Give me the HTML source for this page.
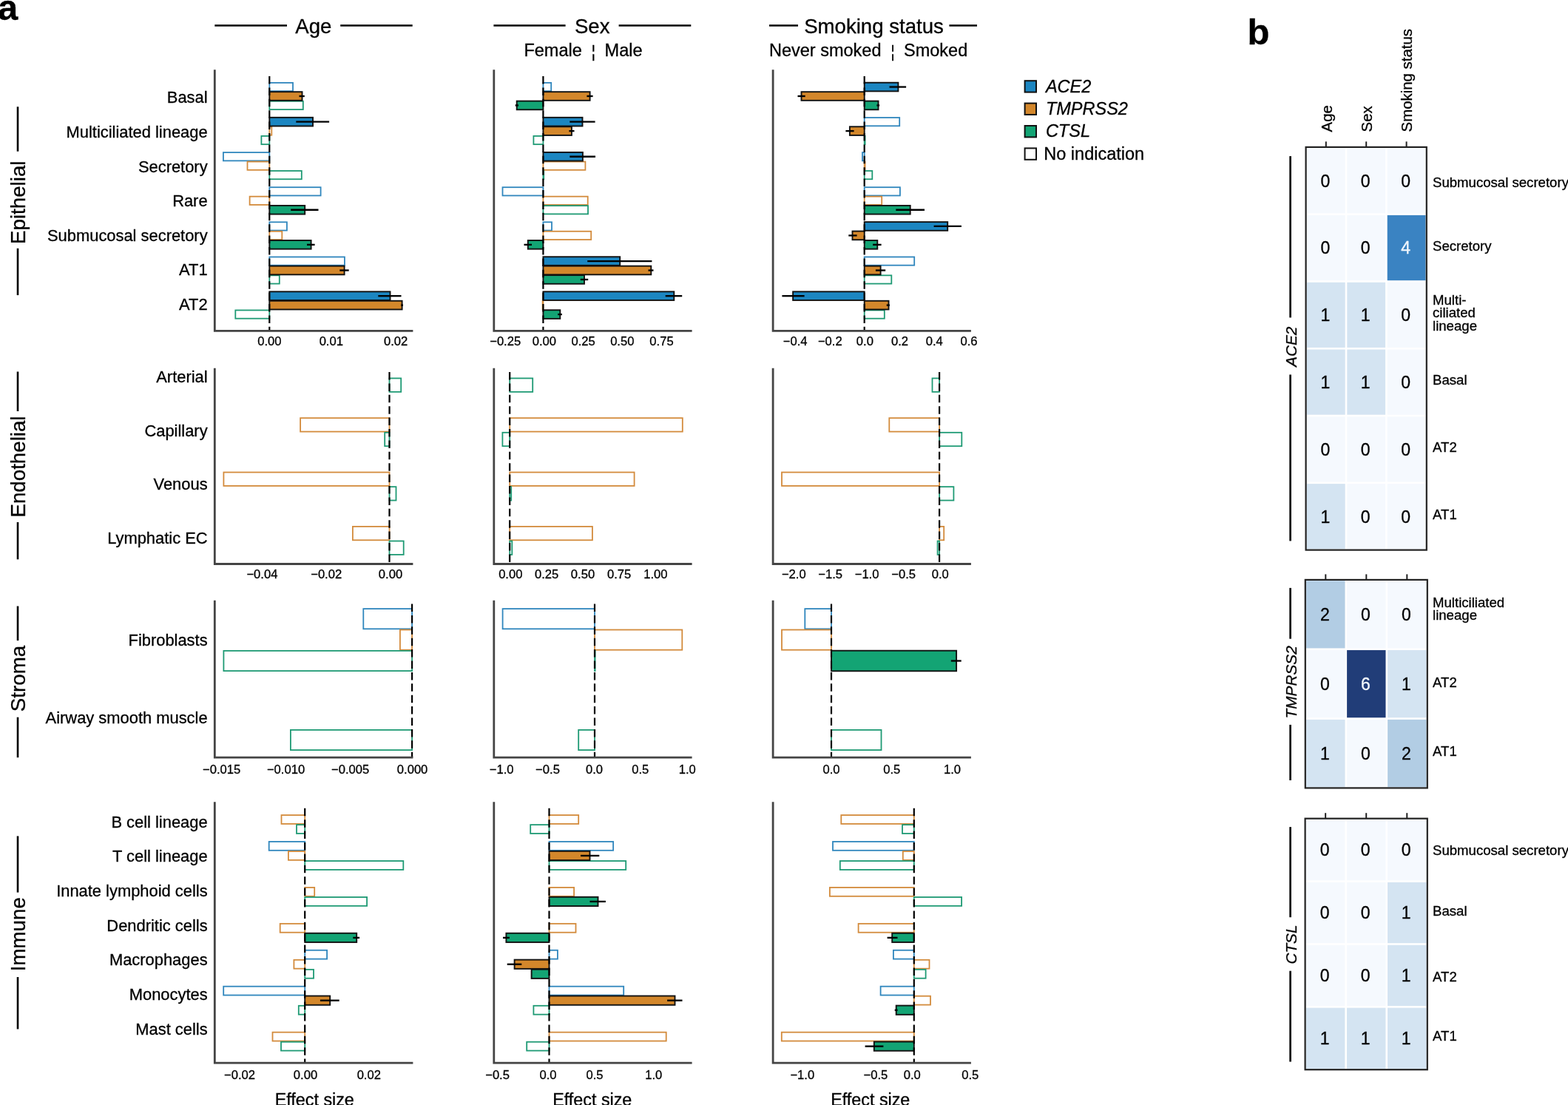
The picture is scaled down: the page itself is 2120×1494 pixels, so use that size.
<!DOCTYPE html>
<html><head><meta charset="utf-8"><title>Figure</title>
<style>html,body{margin:0;padding:0;background:#fff;}body{width:2120px;height:1494px;overflow:hidden;}svg{display:block;}</style>
</head><body>
<svg width="2120" height="1494" viewBox="0 0 2120 1494" font-family='"Liberation Sans", Arial, Helvetica, sans-serif'>
<rect width="2120" height="1494" fill="#fff"/>
<text x="-3" y="26.8" font-size="49" font-weight="bold" stroke="#000" stroke-width="0.3">a</text>
<text x="1686.5" y="60.2" font-size="49" font-weight="bold" stroke="#000" stroke-width="0.3">b</text>
<line x1="290.3" y1="34.5" x2="388" y2="34.5" stroke="#000" stroke-width="2.5"/>
<line x1="460.2" y1="34.5" x2="557.7" y2="34.5" stroke="#000" stroke-width="2.5"/>
<text x="423.9" y="45.4" font-size="27.6" text-anchor="middle" stroke="#000" stroke-width="0.3">Age</text>
<line x1="667.4" y1="34.5" x2="764.6" y2="34.5" stroke="#000" stroke-width="2.5"/>
<line x1="836.6" y1="34.5" x2="934.3" y2="34.5" stroke="#000" stroke-width="2.5"/>
<text x="800.7" y="45.4" font-size="27.6" text-anchor="middle" stroke="#000" stroke-width="0.3">Sex</text>
<line x1="1040" y1="34.5" x2="1079" y2="34.5" stroke="#000" stroke-width="2.5"/>
<line x1="1283.4" y1="34.5" x2="1321" y2="34.5" stroke="#000" stroke-width="2.5"/>
<text x="1181.5" y="45.4" font-size="27.6" text-anchor="middle" stroke="#000" stroke-width="0.3">Smoking status</text>
<text x="786.8" y="76.3" font-size="23.5" text-anchor="end" stroke="#000" stroke-width="0.3">Female</text>
<text x="802.3" y="76.9" font-size="21.5" text-anchor="middle" stroke="#000" stroke-width="0.3">¦</text>
<text x="817.6" y="76.3" font-size="23.5" stroke="#000" stroke-width="0.3">Male</text>
<text x="1191.5" y="76.3" font-size="23.5" text-anchor="end" stroke="#000" stroke-width="0.3">Never smoked</text>
<text x="1207" y="76.9" font-size="21.5" text-anchor="middle" stroke="#000" stroke-width="0.3">¦</text>
<text x="1222" y="76.3" font-size="23.5" stroke="#000" stroke-width="0.3">Smoked</text>
<rect x="364.3" y="111.92" width="31.7" height="11.25" fill="none" stroke="#2f86bd" stroke-width="1.8"/>
<rect x="364.3" y="136.82" width="45.5" height="11.25" fill="none" stroke="#1e9a74" stroke-width="1.8"/>
<rect x="364.3" y="171.47" width="3" height="11.25" fill="none" stroke="#d38b3c" stroke-width="1.8"/>
<rect x="353.4" y="183.92" width="10.9" height="11.25" fill="none" stroke="#1e9a74" stroke-width="1.8"/>
<rect x="301.9" y="206.12" width="62.4" height="11.25" fill="none" stroke="#2f86bd" stroke-width="1.8"/>
<rect x="334.5" y="218.57" width="29.8" height="11.25" fill="none" stroke="#d38b3c" stroke-width="1.8"/>
<rect x="364.3" y="231.02" width="43.5" height="11.25" fill="none" stroke="#1e9a74" stroke-width="1.8"/>
<rect x="364.3" y="253.22" width="69.3" height="11.25" fill="none" stroke="#2f86bd" stroke-width="1.8"/>
<rect x="337.6" y="265.68" width="26.7" height="11.25" fill="none" stroke="#d38b3c" stroke-width="1.8"/>
<rect x="364.3" y="300.32" width="23.6" height="11.25" fill="none" stroke="#2f86bd" stroke-width="1.8"/>
<rect x="364.3" y="312.77" width="17" height="11.25" fill="none" stroke="#d38b3c" stroke-width="1.8"/>
<rect x="364.3" y="347.43" width="101.6" height="11.25" fill="none" stroke="#2f86bd" stroke-width="1.8"/>
<rect x="364.3" y="372.33" width="13.5" height="11.25" fill="none" stroke="#1e9a74" stroke-width="1.8"/>
<rect x="318.3" y="419.43" width="46" height="11.25" fill="none" stroke="#1e9a74" stroke-width="1.8"/>
<rect x="364.3" y="124.18" width="44.2" height="11.65" fill="#d3872b" stroke="#111" stroke-width="1.9"/>
<rect x="364.3" y="158.83" width="58.7" height="11.65" fill="#1c86c1" stroke="#111" stroke-width="1.9"/>
<rect x="364.3" y="277.93" width="47.9" height="11.65" fill="#13a474" stroke="#111" stroke-width="1.9"/>
<rect x="364.3" y="325.02" width="56.3" height="11.65" fill="#13a474" stroke="#111" stroke-width="1.9"/>
<rect x="364.3" y="359.67" width="101.3" height="11.65" fill="#d3872b" stroke="#111" stroke-width="1.9"/>
<rect x="364.3" y="394.32" width="163.2" height="11.65" fill="#1c86c1" stroke="#111" stroke-width="1.9"/>
<rect x="364.3" y="406.77" width="179.3" height="11.65" fill="#d3872b" stroke="#111" stroke-width="1.9"/>
<line x1="364.3" y1="103" x2="364.3" y2="447.3" stroke="#000" stroke-width="2.2" stroke-dasharray="10.5 4.9"/>
<line x1="404.5" y1="130" x2="411.8" y2="130" stroke="#000" stroke-width="2.3"/>
<line x1="400.3" y1="164.65" x2="445.1" y2="164.65" stroke="#000" stroke-width="2.3"/>
<line x1="393.2" y1="283.75" x2="430.5" y2="283.75" stroke="#000" stroke-width="2.3"/>
<line x1="415" y1="330.85" x2="425.6" y2="330.85" stroke="#000" stroke-width="2.3"/>
<line x1="459.3" y1="365.5" x2="471.7" y2="365.5" stroke="#000" stroke-width="2.3"/>
<line x1="511.3" y1="400.15" x2="542.5" y2="400.15" stroke="#000" stroke-width="2.3"/>
<line x1="542.2" y1="412.6" x2="545" y2="412.6" stroke="#000" stroke-width="2.3"/>
<path d="M290.3 94.3 V447.3 H558.4" fill="none" stroke="#444444" stroke-width="2.8"/>
<text x="364.4" y="467.2" font-size="16.6" text-anchor="middle" stroke="#000" stroke-width="0.3">0.00</text>
<text x="447.8" y="467.2" font-size="16.6" text-anchor="middle" stroke="#000" stroke-width="0.3">0.01</text>
<text x="535.1" y="467.2" font-size="16.6" text-anchor="middle" stroke="#000" stroke-width="0.3">0.02</text>
<rect x="734.4" y="111.92" width="10.8" height="11.25" fill="none" stroke="#2f86bd" stroke-width="1.8"/>
<rect x="721.4" y="183.92" width="13" height="11.25" fill="none" stroke="#1e9a74" stroke-width="1.8"/>
<rect x="734.4" y="218.57" width="57" height="11.25" fill="none" stroke="#d38b3c" stroke-width="1.8"/>
<rect x="734.4" y="231.02" width="0.8" height="11.25" fill="none" stroke="#1e9a74" stroke-width="1.8"/>
<rect x="679.5" y="253.22" width="54.9" height="11.25" fill="none" stroke="#2f86bd" stroke-width="1.8"/>
<rect x="734.4" y="265.68" width="60.3" height="11.25" fill="none" stroke="#d38b3c" stroke-width="1.8"/>
<rect x="734.4" y="278.13" width="60.6" height="11.25" fill="none" stroke="#1e9a74" stroke-width="1.8"/>
<rect x="734.4" y="300.32" width="11.6" height="11.25" fill="none" stroke="#2f86bd" stroke-width="1.8"/>
<rect x="734.4" y="312.77" width="64.8" height="11.25" fill="none" stroke="#d38b3c" stroke-width="1.8"/>
<rect x="733.6" y="406.98" width="0.8" height="11.25" fill="none" stroke="#d38b3c" stroke-width="1.8"/>
<rect x="734.4" y="124.18" width="63.2" height="11.65" fill="#d3872b" stroke="#111" stroke-width="1.9"/>
<rect x="698.7" y="136.62" width="35.7" height="11.65" fill="#13a474" stroke="#111" stroke-width="1.9"/>
<rect x="734.4" y="158.83" width="53.1" height="11.65" fill="#1c86c1" stroke="#111" stroke-width="1.9"/>
<rect x="734.4" y="171.28" width="38.5" height="11.65" fill="#d3872b" stroke="#111" stroke-width="1.9"/>
<rect x="734.4" y="205.92" width="53.5" height="11.65" fill="#1c86c1" stroke="#111" stroke-width="1.9"/>
<rect x="713.8" y="325.02" width="20.6" height="11.65" fill="#13a474" stroke="#111" stroke-width="1.9"/>
<rect x="734.4" y="347.22" width="103.8" height="11.65" fill="#1c86c1" stroke="#111" stroke-width="1.9"/>
<rect x="734.4" y="359.67" width="145.9" height="11.65" fill="#d3872b" stroke="#111" stroke-width="1.9"/>
<rect x="734.4" y="372.12" width="55.6" height="11.65" fill="#13a474" stroke="#111" stroke-width="1.9"/>
<rect x="734.4" y="394.32" width="176.9" height="11.65" fill="#1c86c1" stroke="#111" stroke-width="1.9"/>
<rect x="734.4" y="419.23" width="22.9" height="11.65" fill="#13a474" stroke="#111" stroke-width="1.9"/>
<line x1="734.4" y1="103" x2="734.4" y2="447.3" stroke="#000" stroke-width="2.2" stroke-dasharray="10.5 4.9"/>
<line x1="793.4" y1="130" x2="801.6" y2="130" stroke="#000" stroke-width="2.3"/>
<line x1="696.7" y1="142.45" x2="701" y2="142.45" stroke="#000" stroke-width="2.3"/>
<line x1="770.3" y1="164.65" x2="804.6" y2="164.65" stroke="#000" stroke-width="2.3"/>
<line x1="769.4" y1="177.1" x2="776.5" y2="177.1" stroke="#000" stroke-width="2.3"/>
<line x1="770.3" y1="211.75" x2="805" y2="211.75" stroke="#000" stroke-width="2.3"/>
<line x1="708.5" y1="330.85" x2="719" y2="330.85" stroke="#000" stroke-width="2.3"/>
<line x1="794.2" y1="353.05" x2="881.4" y2="353.05" stroke="#000" stroke-width="2.3"/>
<line x1="876.5" y1="365.5" x2="883.5" y2="365.5" stroke="#000" stroke-width="2.3"/>
<line x1="784.8" y1="377.95" x2="795.2" y2="377.95" stroke="#000" stroke-width="2.3"/>
<line x1="899.7" y1="400.15" x2="922.2" y2="400.15" stroke="#000" stroke-width="2.3"/>
<line x1="754.2" y1="425.05" x2="759.8" y2="425.05" stroke="#000" stroke-width="2.3"/>
<path d="M667.8 94.3 V447.3 H935.6" fill="none" stroke="#444444" stroke-width="2.8"/>
<text x="683.2" y="467.2" font-size="16.6" text-anchor="middle" stroke="#000" stroke-width="0.3">−0.25</text>
<text x="735.9" y="467.2" font-size="16.6" text-anchor="middle" stroke="#000" stroke-width="0.3">0.00</text>
<text x="788.6" y="467.2" font-size="16.6" text-anchor="middle" stroke="#000" stroke-width="0.3">0.25</text>
<text x="841.3" y="467.2" font-size="16.6" text-anchor="middle" stroke="#000" stroke-width="0.3">0.50</text>
<text x="894.5" y="467.2" font-size="16.6" text-anchor="middle" stroke="#000" stroke-width="0.3">0.75</text>
<rect x="1168.7" y="159.03" width="47.5" height="11.25" fill="none" stroke="#2f86bd" stroke-width="1.8"/>
<rect x="1168.7" y="183.92" width="0.9" height="11.25" fill="none" stroke="#1e9a74" stroke-width="1.8"/>
<rect x="1166" y="206.12" width="2.7" height="11.25" fill="none" stroke="#2f86bd" stroke-width="1.8"/>
<rect x="1168.7" y="218.57" width="0.9" height="11.25" fill="none" stroke="#d38b3c" stroke-width="1.8"/>
<rect x="1168.7" y="231.02" width="10.6" height="11.25" fill="none" stroke="#1e9a74" stroke-width="1.8"/>
<rect x="1168.7" y="253.22" width="48.2" height="11.25" fill="none" stroke="#2f86bd" stroke-width="1.8"/>
<rect x="1168.7" y="265.68" width="23.5" height="11.25" fill="none" stroke="#d38b3c" stroke-width="1.8"/>
<rect x="1168.7" y="347.43" width="67.5" height="11.25" fill="none" stroke="#2f86bd" stroke-width="1.8"/>
<rect x="1168.7" y="372.33" width="36.6" height="11.25" fill="none" stroke="#1e9a74" stroke-width="1.8"/>
<rect x="1168.7" y="419.43" width="27.1" height="11.25" fill="none" stroke="#1e9a74" stroke-width="1.8"/>
<rect x="1168.7" y="111.73" width="45.7" height="11.65" fill="#1c86c1" stroke="#111" stroke-width="1.9"/>
<rect x="1083.5" y="124.18" width="85.2" height="11.65" fill="#d3872b" stroke="#111" stroke-width="1.9"/>
<rect x="1168.7" y="136.62" width="18.8" height="11.65" fill="#13a474" stroke="#111" stroke-width="1.9"/>
<rect x="1148.9" y="171.28" width="19.8" height="11.65" fill="#d3872b" stroke="#111" stroke-width="1.9"/>
<rect x="1168.7" y="277.93" width="62" height="11.65" fill="#13a474" stroke="#111" stroke-width="1.9"/>
<rect x="1168.7" y="300.12" width="112.5" height="11.65" fill="#1c86c1" stroke="#111" stroke-width="1.9"/>
<rect x="1152.5" y="312.57" width="16.2" height="11.65" fill="#d3872b" stroke="#111" stroke-width="1.9"/>
<rect x="1168.7" y="325.02" width="17.6" height="11.65" fill="#13a474" stroke="#111" stroke-width="1.9"/>
<rect x="1168.7" y="359.67" width="21.9" height="11.65" fill="#d3872b" stroke="#111" stroke-width="1.9"/>
<rect x="1072.1" y="394.32" width="96.6" height="11.65" fill="#1c86c1" stroke="#111" stroke-width="1.9"/>
<rect x="1168.7" y="406.77" width="32.8" height="11.65" fill="#d3872b" stroke="#111" stroke-width="1.9"/>
<line x1="1168.7" y1="103" x2="1168.7" y2="447.3" stroke="#000" stroke-width="2.2" stroke-dasharray="10.5 4.9"/>
<line x1="1202.5" y1="117.55" x2="1225.1" y2="117.55" stroke="#000" stroke-width="2.3"/>
<line x1="1078.5" y1="130" x2="1088.7" y2="130" stroke="#000" stroke-width="2.3"/>
<line x1="1185.4" y1="142.45" x2="1189.1" y2="142.45" stroke="#000" stroke-width="2.3"/>
<line x1="1143.4" y1="177.1" x2="1154.6" y2="177.1" stroke="#000" stroke-width="2.3"/>
<line x1="1211.3" y1="283.75" x2="1250" y2="283.75" stroke="#000" stroke-width="2.3"/>
<line x1="1262.6" y1="305.95" x2="1299.9" y2="305.95" stroke="#000" stroke-width="2.3"/>
<line x1="1147.3" y1="318.4" x2="1158.6" y2="318.4" stroke="#000" stroke-width="2.3"/>
<line x1="1180.1" y1="330.85" x2="1191.6" y2="330.85" stroke="#000" stroke-width="2.3"/>
<line x1="1183.9" y1="365.5" x2="1197.2" y2="365.5" stroke="#000" stroke-width="2.3"/>
<line x1="1057.4" y1="400.15" x2="1087.6" y2="400.15" stroke="#000" stroke-width="2.3"/>
<line x1="1198.7" y1="412.6" x2="1202.9" y2="412.6" stroke="#000" stroke-width="2.3"/>
<path d="M1045.1 94.3 V447.3 H1312.9" fill="none" stroke="#444444" stroke-width="2.8"/>
<text x="1075.2" y="467.2" font-size="16.6" text-anchor="middle" stroke="#000" stroke-width="0.3">−0.4</text>
<text x="1122.3" y="467.2" font-size="16.6" text-anchor="middle" stroke="#000" stroke-width="0.3">−0.2</text>
<text x="1169.4" y="467.2" font-size="16.6" text-anchor="middle" stroke="#000" stroke-width="0.3">0.0</text>
<text x="1216.5" y="467.2" font-size="16.6" text-anchor="middle" stroke="#000" stroke-width="0.3">0.2</text>
<text x="1263.3" y="467.2" font-size="16.6" text-anchor="middle" stroke="#000" stroke-width="0.3">0.4</text>
<text x="1310" y="467.2" font-size="16.6" text-anchor="middle" stroke="#000" stroke-width="0.3">0.6</text>
<rect x="526.5" y="511.45" width="15.7" height="18.4" fill="none" stroke="#1e9a74" stroke-width="1.8"/>
<rect x="406.1" y="565.2" width="120.4" height="18.4" fill="none" stroke="#d38b3c" stroke-width="1.8"/>
<rect x="520.2" y="584.8" width="6.3" height="18.4" fill="none" stroke="#1e9a74" stroke-width="1.8"/>
<rect x="302.4" y="638.55" width="224.1" height="18.4" fill="none" stroke="#d38b3c" stroke-width="1.8"/>
<rect x="526.5" y="658.15" width="9" height="18.4" fill="none" stroke="#1e9a74" stroke-width="1.8"/>
<rect x="476.9" y="711.9" width="49.6" height="18.4" fill="none" stroke="#d38b3c" stroke-width="1.8"/>
<rect x="526.5" y="731.5" width="19.2" height="18.4" fill="none" stroke="#1e9a74" stroke-width="1.8"/>
<line x1="526.5" y1="503" x2="526.5" y2="762.5" stroke="#000" stroke-width="2.2" stroke-dasharray="10.5 4.9"/>
<path d="M290.3 497.7 V762.5 H558.4" fill="none" stroke="#444444" stroke-width="2.8"/>
<text x="354.4" y="782.1" font-size="16.6" text-anchor="middle" stroke="#000" stroke-width="0.3">−0.04</text>
<text x="441.2" y="782.1" font-size="16.6" text-anchor="middle" stroke="#000" stroke-width="0.3">−0.02</text>
<text x="528" y="782.1" font-size="16.6" text-anchor="middle" stroke="#000" stroke-width="0.3">0.00</text>
<rect x="689.2" y="511.45" width="31" height="18.4" fill="none" stroke="#1e9a74" stroke-width="1.8"/>
<rect x="689.2" y="565.2" width="233.6" height="18.4" fill="none" stroke="#d38b3c" stroke-width="1.8"/>
<rect x="679.4" y="584.8" width="9.8" height="18.4" fill="none" stroke="#1e9a74" stroke-width="1.8"/>
<rect x="689.2" y="638.55" width="168.4" height="18.4" fill="none" stroke="#d38b3c" stroke-width="1.8"/>
<rect x="689.2" y="658.15" width="2" height="18.4" fill="none" stroke="#1e9a74" stroke-width="1.8"/>
<rect x="689.2" y="711.9" width="111.7" height="18.4" fill="none" stroke="#d38b3c" stroke-width="1.8"/>
<rect x="689.2" y="731.5" width="3.1" height="18.4" fill="none" stroke="#1e9a74" stroke-width="1.8"/>
<line x1="689.2" y1="503" x2="689.2" y2="762.5" stroke="#000" stroke-width="2.2" stroke-dasharray="10.5 4.9"/>
<path d="M667.8 497.7 V762.5 H935.6" fill="none" stroke="#444444" stroke-width="2.8"/>
<text x="690.3" y="782.1" font-size="16.6" text-anchor="middle" stroke="#000" stroke-width="0.3">0.00</text>
<text x="739.1" y="782.1" font-size="16.6" text-anchor="middle" stroke="#000" stroke-width="0.3">0.25</text>
<text x="788" y="782.1" font-size="16.6" text-anchor="middle" stroke="#000" stroke-width="0.3">0.50</text>
<text x="837.1" y="782.1" font-size="16.6" text-anchor="middle" stroke="#000" stroke-width="0.3">0.75</text>
<text x="886.4" y="782.1" font-size="16.6" text-anchor="middle" stroke="#000" stroke-width="0.3">1.00</text>
<rect x="1260.5" y="511.45" width="9.6" height="18.4" fill="none" stroke="#1e9a74" stroke-width="1.8"/>
<rect x="1202.3" y="565.2" width="67.8" height="18.4" fill="none" stroke="#d38b3c" stroke-width="1.8"/>
<rect x="1270.1" y="584.8" width="30.2" height="18.4" fill="none" stroke="#1e9a74" stroke-width="1.8"/>
<rect x="1057" y="638.55" width="213.1" height="18.4" fill="none" stroke="#d38b3c" stroke-width="1.8"/>
<rect x="1270.1" y="658.15" width="19.3" height="18.4" fill="none" stroke="#1e9a74" stroke-width="1.8"/>
<rect x="1270.1" y="711.9" width="6.1" height="18.4" fill="none" stroke="#d38b3c" stroke-width="1.8"/>
<rect x="1267.6" y="731.5" width="2.5" height="18.4" fill="none" stroke="#1e9a74" stroke-width="1.8"/>
<line x1="1270.1" y1="503" x2="1270.1" y2="762.5" stroke="#000" stroke-width="2.2" stroke-dasharray="10.5 4.9"/>
<path d="M1045.1 497.7 V762.5 H1312.9" fill="none" stroke="#444444" stroke-width="2.8"/>
<text x="1073.3" y="782.1" font-size="16.6" text-anchor="middle" stroke="#000" stroke-width="0.3">−2.0</text>
<text x="1122.7" y="782.1" font-size="16.6" text-anchor="middle" stroke="#000" stroke-width="0.3">−1.5</text>
<text x="1172.1" y="782.1" font-size="16.6" text-anchor="middle" stroke="#000" stroke-width="0.3">−1.0</text>
<text x="1221.7" y="782.1" font-size="16.6" text-anchor="middle" stroke="#000" stroke-width="0.3">−0.5</text>
<text x="1271.3" y="782.1" font-size="16.6" text-anchor="middle" stroke="#000" stroke-width="0.3">0.0</text>
<rect x="491.3" y="823.1" width="65.8" height="27.2" fill="none" stroke="#2f86bd" stroke-width="1.8"/>
<rect x="540.9" y="851.5" width="16.2" height="27.2" fill="none" stroke="#d38b3c" stroke-width="1.8"/>
<rect x="302.4" y="879.9" width="254.7" height="27.2" fill="none" stroke="#1e9a74" stroke-width="1.8"/>
<rect x="392.9" y="986.9" width="164.2" height="27.2" fill="none" stroke="#1e9a74" stroke-width="1.8"/>
<line x1="557.1" y1="816.5" x2="557.1" y2="1024.2" stroke="#000" stroke-width="2.2" stroke-dasharray="10.5 4.9"/>
<path d="M290.3 811.8 V1024.2 H558.4" fill="none" stroke="#444444" stroke-width="2.8"/>
<text x="299.7" y="1045.8" font-size="16.6" text-anchor="middle" stroke="#000" stroke-width="0.3">−0.015</text>
<text x="386.5" y="1045.8" font-size="16.6" text-anchor="middle" stroke="#000" stroke-width="0.3">−0.010</text>
<text x="473.7" y="1045.8" font-size="16.6" text-anchor="middle" stroke="#000" stroke-width="0.3">−0.005</text>
<text x="557.6" y="1045.8" font-size="16.6" text-anchor="middle" stroke="#000" stroke-width="0.3">0.000</text>
<rect x="679.6" y="823.1" width="124.4" height="27.2" fill="none" stroke="#2f86bd" stroke-width="1.8"/>
<rect x="804" y="851.5" width="118.3" height="27.2" fill="none" stroke="#d38b3c" stroke-width="1.8"/>
<rect x="804" y="879.9" width="0.6" height="27.2" fill="none" stroke="#1e9a74" stroke-width="1.8"/>
<rect x="782.2" y="986.9" width="21.8" height="27.2" fill="none" stroke="#1e9a74" stroke-width="1.8"/>
<line x1="804" y1="816.5" x2="804" y2="1024.2" stroke="#000" stroke-width="2.2" stroke-dasharray="10.5 4.9"/>
<path d="M667.8 811.8 V1024.2 H935.6" fill="none" stroke="#444444" stroke-width="2.8"/>
<text x="678.2" y="1045.8" font-size="16.6" text-anchor="middle" stroke="#000" stroke-width="0.3">−1.0</text>
<text x="740.5" y="1045.8" font-size="16.6" text-anchor="middle" stroke="#000" stroke-width="0.3">−0.5</text>
<text x="803.5" y="1045.8" font-size="16.6" text-anchor="middle" stroke="#000" stroke-width="0.3">0.0</text>
<text x="865.8" y="1045.8" font-size="16.6" text-anchor="middle" stroke="#000" stroke-width="0.3">0.5</text>
<text x="929.3" y="1045.8" font-size="16.6" text-anchor="middle" stroke="#000" stroke-width="0.3">1.0</text>
<rect x="1088.3" y="823.1" width="35.7" height="27.2" fill="none" stroke="#2f86bd" stroke-width="1.8"/>
<rect x="1057" y="851.5" width="67" height="27.2" fill="none" stroke="#d38b3c" stroke-width="1.8"/>
<rect x="1124" y="986.9" width="67.5" height="27.2" fill="none" stroke="#1e9a74" stroke-width="1.8"/>
<rect x="1124" y="879.7" width="169.1" height="27.6" fill="#13a474" stroke="#111" stroke-width="1.9"/>
<line x1="1124" y1="816.5" x2="1124" y2="1024.2" stroke="#000" stroke-width="2.2" stroke-dasharray="10.5 4.9"/>
<line x1="1285.8" y1="893.5" x2="1299.7" y2="893.5" stroke="#000" stroke-width="2.3"/>
<path d="M1045.1 811.8 V1024.2 H1312.9" fill="none" stroke="#444444" stroke-width="2.8"/>
<text x="1124" y="1045.8" font-size="16.6" text-anchor="middle" stroke="#000" stroke-width="0.3">0.0</text>
<text x="1205.7" y="1045.8" font-size="16.6" text-anchor="middle" stroke="#000" stroke-width="0.3">0.5</text>
<text x="1287.5" y="1045.8" font-size="16.6" text-anchor="middle" stroke="#000" stroke-width="0.3">1.0</text>
<rect x="380.5" y="1102.07" width="31.7" height="11.85" fill="none" stroke="#d38b3c" stroke-width="1.8"/>
<rect x="401" y="1115.12" width="11.2" height="11.85" fill="none" stroke="#1e9a74" stroke-width="1.8"/>
<rect x="363.7" y="1137.95" width="48.5" height="11.85" fill="none" stroke="#2f86bd" stroke-width="1.8"/>
<rect x="389.9" y="1151" width="22.3" height="11.85" fill="none" stroke="#d38b3c" stroke-width="1.8"/>
<rect x="412.2" y="1164.06" width="133.1" height="11.85" fill="none" stroke="#1e9a74" stroke-width="1.8"/>
<rect x="412.2" y="1199.93" width="13" height="11.85" fill="none" stroke="#d38b3c" stroke-width="1.8"/>
<rect x="412.2" y="1212.98" width="83.9" height="11.85" fill="none" stroke="#1e9a74" stroke-width="1.8"/>
<rect x="378.7" y="1248.86" width="33.5" height="11.85" fill="none" stroke="#d38b3c" stroke-width="1.8"/>
<rect x="412.2" y="1284.74" width="29.9" height="11.85" fill="none" stroke="#2f86bd" stroke-width="1.8"/>
<rect x="397.4" y="1297.79" width="14.8" height="11.85" fill="none" stroke="#d38b3c" stroke-width="1.8"/>
<rect x="412.2" y="1310.85" width="11.8" height="11.85" fill="none" stroke="#1e9a74" stroke-width="1.8"/>
<rect x="302.2" y="1333.67" width="110" height="11.85" fill="none" stroke="#2f86bd" stroke-width="1.8"/>
<rect x="403.8" y="1359.78" width="8.4" height="11.85" fill="none" stroke="#1e9a74" stroke-width="1.8"/>
<rect x="368.5" y="1395.65" width="43.7" height="11.85" fill="none" stroke="#d38b3c" stroke-width="1.8"/>
<rect x="380" y="1408.7" width="32.2" height="11.85" fill="none" stroke="#1e9a74" stroke-width="1.8"/>
<rect x="412.2" y="1261.72" width="70" height="12.25" fill="#13a474" stroke="#111" stroke-width="1.9"/>
<rect x="412.2" y="1346.53" width="34" height="12.25" fill="#d3872b" stroke="#111" stroke-width="1.9"/>
<line x1="412.2" y1="1092.8" x2="412.2" y2="1437.2" stroke="#000" stroke-width="2.2" stroke-dasharray="10.5 4.9"/>
<line x1="477.3" y1="1267.84" x2="486.1" y2="1267.84" stroke="#000" stroke-width="2.3"/>
<line x1="432.9" y1="1352.65" x2="458.7" y2="1352.65" stroke="#000" stroke-width="2.3"/>
<path d="M290.3 1084.3 V1437.2 H558.4" fill="none" stroke="#444444" stroke-width="2.8"/>
<text x="324.1" y="1458.7" font-size="16.6" text-anchor="middle" stroke="#000" stroke-width="0.3">−0.02</text>
<text x="413" y="1458.7" font-size="16.6" text-anchor="middle" stroke="#000" stroke-width="0.3">0.00</text>
<text x="498.8" y="1458.7" font-size="16.6" text-anchor="middle" stroke="#000" stroke-width="0.3">0.02</text>
<rect x="742.5" y="1102.07" width="39.7" height="11.85" fill="none" stroke="#d38b3c" stroke-width="1.8"/>
<rect x="717.2" y="1115.12" width="25.3" height="11.85" fill="none" stroke="#1e9a74" stroke-width="1.8"/>
<rect x="742.5" y="1137.95" width="86.6" height="11.85" fill="none" stroke="#2f86bd" stroke-width="1.8"/>
<rect x="742.5" y="1164.06" width="103.7" height="11.85" fill="none" stroke="#1e9a74" stroke-width="1.8"/>
<rect x="742.5" y="1199.93" width="33.6" height="11.85" fill="none" stroke="#d38b3c" stroke-width="1.8"/>
<rect x="742.5" y="1248.86" width="36" height="11.85" fill="none" stroke="#d38b3c" stroke-width="1.8"/>
<rect x="742.5" y="1284.74" width="11.4" height="11.85" fill="none" stroke="#2f86bd" stroke-width="1.8"/>
<rect x="742.5" y="1333.67" width="100.7" height="11.85" fill="none" stroke="#2f86bd" stroke-width="1.8"/>
<rect x="721.4" y="1359.78" width="21.1" height="11.85" fill="none" stroke="#1e9a74" stroke-width="1.8"/>
<rect x="742.5" y="1395.65" width="158.2" height="11.85" fill="none" stroke="#d38b3c" stroke-width="1.8"/>
<rect x="712.2" y="1408.7" width="30.3" height="11.85" fill="none" stroke="#1e9a74" stroke-width="1.8"/>
<rect x="742.5" y="1150.81" width="55" height="12.25" fill="#d3872b" stroke="#111" stroke-width="1.9"/>
<rect x="742.5" y="1212.79" width="66" height="12.25" fill="#13a474" stroke="#111" stroke-width="1.9"/>
<rect x="684.4" y="1261.72" width="58.1" height="12.25" fill="#13a474" stroke="#111" stroke-width="1.9"/>
<rect x="695.6" y="1297.6" width="46.9" height="12.25" fill="#d3872b" stroke="#111" stroke-width="1.9"/>
<rect x="718.6" y="1310.65" width="23.9" height="12.25" fill="#13a474" stroke="#111" stroke-width="1.9"/>
<rect x="742.5" y="1346.53" width="170" height="12.25" fill="#d3872b" stroke="#111" stroke-width="1.9"/>
<line x1="742.5" y1="1092.8" x2="742.5" y2="1437.2" stroke="#000" stroke-width="2.2" stroke-dasharray="10.5 4.9"/>
<line x1="785" y1="1156.93" x2="810.3" y2="1156.93" stroke="#000" stroke-width="2.3"/>
<line x1="797.5" y1="1218.91" x2="818.9" y2="1218.91" stroke="#000" stroke-width="2.3"/>
<line x1="680" y1="1267.84" x2="688.9" y2="1267.84" stroke="#000" stroke-width="2.3"/>
<line x1="685.7" y1="1303.72" x2="705.3" y2="1303.72" stroke="#000" stroke-width="2.3"/>
<line x1="902.1" y1="1352.65" x2="922.5" y2="1352.65" stroke="#000" stroke-width="2.3"/>
<path d="M667.8 1084.3 V1437.2 H935.6" fill="none" stroke="#444444" stroke-width="2.8"/>
<text x="672.6" y="1458.7" font-size="16.6" text-anchor="middle" stroke="#000" stroke-width="0.3">−0.5</text>
<text x="741" y="1458.7" font-size="16.6" text-anchor="middle" stroke="#000" stroke-width="0.3">0.0</text>
<text x="804" y="1458.7" font-size="16.6" text-anchor="middle" stroke="#000" stroke-width="0.3">0.5</text>
<text x="883.7" y="1458.7" font-size="16.6" text-anchor="middle" stroke="#000" stroke-width="0.3">1.0</text>
<rect x="1137.3" y="1102.07" width="98.5" height="11.85" fill="none" stroke="#d38b3c" stroke-width="1.8"/>
<rect x="1220" y="1115.12" width="15.8" height="11.85" fill="none" stroke="#1e9a74" stroke-width="1.8"/>
<rect x="1126" y="1137.95" width="109.8" height="11.85" fill="none" stroke="#2f86bd" stroke-width="1.8"/>
<rect x="1220.8" y="1151" width="15" height="11.85" fill="none" stroke="#d38b3c" stroke-width="1.8"/>
<rect x="1135.8" y="1164.06" width="100" height="11.85" fill="none" stroke="#1e9a74" stroke-width="1.8"/>
<rect x="1121.9" y="1199.93" width="113.9" height="11.85" fill="none" stroke="#d38b3c" stroke-width="1.8"/>
<rect x="1235.8" y="1212.98" width="64.3" height="11.85" fill="none" stroke="#1e9a74" stroke-width="1.8"/>
<rect x="1160.6" y="1248.86" width="75.2" height="11.85" fill="none" stroke="#d38b3c" stroke-width="1.8"/>
<rect x="1207.9" y="1284.74" width="27.9" height="11.85" fill="none" stroke="#2f86bd" stroke-width="1.8"/>
<rect x="1235.8" y="1297.79" width="20.7" height="11.85" fill="none" stroke="#d38b3c" stroke-width="1.8"/>
<rect x="1235.8" y="1310.85" width="15.8" height="11.85" fill="none" stroke="#1e9a74" stroke-width="1.8"/>
<rect x="1190.6" y="1333.67" width="45.2" height="11.85" fill="none" stroke="#2f86bd" stroke-width="1.8"/>
<rect x="1235.8" y="1346.72" width="22.2" height="11.85" fill="none" stroke="#d38b3c" stroke-width="1.8"/>
<rect x="1056.8" y="1395.65" width="179" height="11.85" fill="none" stroke="#d38b3c" stroke-width="1.8"/>
<rect x="1206.2" y="1261.72" width="29.6" height="12.25" fill="#13a474" stroke="#111" stroke-width="1.9"/>
<rect x="1211.7" y="1359.58" width="24.1" height="12.25" fill="#13a474" stroke="#111" stroke-width="1.9"/>
<rect x="1181.8" y="1408.51" width="54" height="12.25" fill="#13a474" stroke="#111" stroke-width="1.9"/>
<line x1="1235.8" y1="1092.8" x2="1235.8" y2="1437.2" stroke="#000" stroke-width="2.2" stroke-dasharray="10.5 4.9"/>
<line x1="1199.6" y1="1267.84" x2="1213.5" y2="1267.84" stroke="#000" stroke-width="2.3"/>
<line x1="1209.7" y1="1365.7" x2="1213.6" y2="1365.7" stroke="#000" stroke-width="2.3"/>
<line x1="1169.6" y1="1414.63" x2="1194.4" y2="1414.63" stroke="#000" stroke-width="2.3"/>
<path d="M1045.1 1084.3 V1437.2 H1312.9" fill="none" stroke="#444444" stroke-width="2.8"/>
<text x="1084.8" y="1458.7" font-size="16.6" text-anchor="middle" stroke="#000" stroke-width="0.3">−1.0</text>
<text x="1183.9" y="1458.7" font-size="16.6" text-anchor="middle" stroke="#000" stroke-width="0.3">−0.5</text>
<text x="1233.2" y="1458.7" font-size="16.6" text-anchor="middle" stroke="#000" stroke-width="0.3">0.0</text>
<text x="1311.8" y="1458.7" font-size="16.6" text-anchor="middle" stroke="#000" stroke-width="0.3">0.5</text>
<text x="280.6" y="139.3" font-size="21.9" text-anchor="end" stroke="#000" stroke-width="0.3">Basal</text>
<text x="280.6" y="185.9" font-size="21.9" text-anchor="end" stroke="#000" stroke-width="0.3">Multiciliated lineage</text>
<text x="280.6" y="233" font-size="21.9" text-anchor="end" stroke="#000" stroke-width="0.3">Secretory</text>
<text x="280.6" y="278.7" font-size="21.9" text-anchor="end" stroke="#000" stroke-width="0.3">Rare</text>
<text x="280.6" y="325.8" font-size="21.9" text-anchor="end" stroke="#000" stroke-width="0.3">Submucosal secretory</text>
<text x="280.6" y="372" font-size="21.9" text-anchor="end" stroke="#000" stroke-width="0.3">AT1</text>
<text x="280.6" y="418.6" font-size="21.9" text-anchor="end" stroke="#000" stroke-width="0.3">AT2</text>
<text x="280.6" y="517.1" font-size="21.9" text-anchor="end" stroke="#000" stroke-width="0.3">Arterial</text>
<text x="280.6" y="589.5" font-size="21.9" text-anchor="end" stroke="#000" stroke-width="0.3">Capillary</text>
<text x="280.6" y="662.3" font-size="21.9" text-anchor="end" stroke="#000" stroke-width="0.3">Venous</text>
<text x="280.6" y="734.7" font-size="21.9" text-anchor="end" stroke="#000" stroke-width="0.3">Lymphatic EC</text>
<text x="280.6" y="873.1" font-size="21.9" text-anchor="end" stroke="#000" stroke-width="0.3">Fibroblasts</text>
<text x="280.6" y="977.8" font-size="21.9" text-anchor="end" stroke="#000" stroke-width="0.3">Airway smooth muscle</text>
<text x="280.6" y="1118.7" font-size="21.9" text-anchor="end" stroke="#000" stroke-width="0.3">B cell lineage</text>
<text x="280.6" y="1165.4" font-size="21.9" text-anchor="end" stroke="#000" stroke-width="0.3">T cell lineage</text>
<text x="280.6" y="1211.6" font-size="21.9" text-anchor="end" stroke="#000" stroke-width="0.3">Innate lymphoid cells</text>
<text x="280.6" y="1258.9" font-size="21.9" text-anchor="end" stroke="#000" stroke-width="0.3">Dendritic cells</text>
<text x="280.6" y="1305.1" font-size="21.9" text-anchor="end" stroke="#000" stroke-width="0.3">Macrophages</text>
<text x="280.6" y="1352" font-size="21.9" text-anchor="end" stroke="#000" stroke-width="0.3">Monocytes</text>
<text x="280.6" y="1398.6" font-size="21.9" text-anchor="end" stroke="#000" stroke-width="0.3">Mast cells</text>
<line x1="24" y1="144.3" x2="24" y2="204.7" stroke="#000" stroke-width="2.6"/>
<line x1="24" y1="335.8" x2="24" y2="399.1" stroke="#000" stroke-width="2.6"/>
<text x="34" y="273.75" font-size="27.7" text-anchor="middle" stroke="#000" stroke-width="0.3" transform="rotate(-90 34 273.75)">Epithelial</text>
<line x1="24" y1="502.5" x2="24" y2="556" stroke="#000" stroke-width="2.6"/>
<line x1="24" y1="706" x2="24" y2="756.3" stroke="#000" stroke-width="2.6"/>
<text x="34" y="631" font-size="27.7" text-anchor="middle" stroke="#000" stroke-width="0.3" transform="rotate(-90 34 631)">Endothelial</text>
<line x1="24" y1="819.5" x2="24" y2="866.1" stroke="#000" stroke-width="2.6"/>
<line x1="24" y1="969.7" x2="24" y2="1024.2" stroke="#000" stroke-width="2.6"/>
<text x="34" y="917.5" font-size="27.7" text-anchor="middle" stroke="#000" stroke-width="0.3" transform="rotate(-90 34 917.5)">Stroma</text>
<line x1="24" y1="1130.4" x2="24" y2="1206.6" stroke="#000" stroke-width="2.6"/>
<line x1="24" y1="1321" x2="24" y2="1391.4" stroke="#000" stroke-width="2.6"/>
<text x="34" y="1263.2" font-size="27.7" text-anchor="middle" stroke="#000" stroke-width="0.3" transform="rotate(-90 34 1263.2)">Immune</text>
<text x="425.3" y="1494.5" font-size="23.3" text-anchor="middle" stroke="#000" stroke-width="0.3">Effect size</text>
<text x="800.8" y="1494.5" font-size="23.3" text-anchor="middle" stroke="#000" stroke-width="0.3">Effect size</text>
<text x="1176.8" y="1494.5" font-size="23.3" text-anchor="middle" stroke="#000" stroke-width="0.3">Effect size</text>
<rect x="1385.6" y="109.2" width="15.4" height="15.4" fill="#1c86c1" stroke="#111" stroke-width="2"/>
<text x="1413.9" y="124.6" font-size="23.5" font-style="italic" stroke="#000" stroke-width="0.3">ACE2</text>
<rect x="1385.6" y="139.6" width="15.4" height="15.4" fill="#d3872b" stroke="#111" stroke-width="2"/>
<text x="1413.9" y="155" font-size="23.5" font-style="italic" stroke="#000" stroke-width="0.3">TMPRSS2</text>
<rect x="1385.6" y="170" width="15.4" height="15.4" fill="#13a474" stroke="#111" stroke-width="2"/>
<text x="1413.9" y="185.4" font-size="23.5" font-style="italic" stroke="#000" stroke-width="0.3">CTSL</text>
<rect x="1385.6" y="200.4" width="15.4" height="15.4" fill="#fff" stroke="#111" stroke-width="2"/>
<text x="1411.3" y="215.8" font-size="23.5" stroke="#000" stroke-width="0.3">No indication</text>
<rect x="1766.9" y="200.2" width="51.8" height="88.18" fill="#f5f9fe"/>
<text x="1791.8" y="252.59" font-size="23" text-anchor="middle" stroke="#000" stroke-width="0.3">0</text>
<rect x="1821.3" y="200.2" width="51.8" height="88.18" fill="#f5f9fe"/>
<text x="1846.2" y="252.59" font-size="23" text-anchor="middle" stroke="#000" stroke-width="0.3">0</text>
<rect x="1875.7" y="200.2" width="51.8" height="88.18" fill="#f5f9fe"/>
<text x="1900.6" y="252.59" font-size="23" text-anchor="middle" stroke="#000" stroke-width="0.3">0</text>
<rect x="1766.9" y="290.98" width="51.8" height="88.18" fill="#f5f9fe"/>
<text x="1791.8" y="343.38" font-size="23" text-anchor="middle" stroke="#000" stroke-width="0.3">0</text>
<rect x="1821.3" y="290.98" width="51.8" height="88.18" fill="#f5f9fe"/>
<text x="1846.2" y="343.38" font-size="23" text-anchor="middle" stroke="#000" stroke-width="0.3">0</text>
<rect x="1875.7" y="290.98" width="51.8" height="88.18" fill="#3a83c2"/>
<text x="1900.6" y="343.38" font-size="23" text-anchor="middle" fill="#f0f6fc" stroke="#f0f6fc" stroke-width="0.3">4</text>
<rect x="1766.9" y="381.77" width="51.8" height="88.18" fill="#d4e4f2"/>
<text x="1791.8" y="434.16" font-size="23" text-anchor="middle" stroke="#000" stroke-width="0.3">1</text>
<rect x="1821.3" y="381.77" width="51.8" height="88.18" fill="#d4e4f2"/>
<text x="1846.2" y="434.16" font-size="23" text-anchor="middle" stroke="#000" stroke-width="0.3">1</text>
<rect x="1875.7" y="381.77" width="51.8" height="88.18" fill="#f5f9fe"/>
<text x="1900.6" y="434.16" font-size="23" text-anchor="middle" stroke="#000" stroke-width="0.3">0</text>
<rect x="1766.9" y="472.55" width="51.8" height="88.18" fill="#d4e4f2"/>
<text x="1791.8" y="524.94" font-size="23" text-anchor="middle" stroke="#000" stroke-width="0.3">1</text>
<rect x="1821.3" y="472.55" width="51.8" height="88.18" fill="#d4e4f2"/>
<text x="1846.2" y="524.94" font-size="23" text-anchor="middle" stroke="#000" stroke-width="0.3">1</text>
<rect x="1875.7" y="472.55" width="51.8" height="88.18" fill="#f5f9fe"/>
<text x="1900.6" y="524.94" font-size="23" text-anchor="middle" stroke="#000" stroke-width="0.3">0</text>
<rect x="1766.9" y="563.33" width="51.8" height="88.18" fill="#f5f9fe"/>
<text x="1791.8" y="615.73" font-size="23" text-anchor="middle" stroke="#000" stroke-width="0.3">0</text>
<rect x="1821.3" y="563.33" width="51.8" height="88.18" fill="#f5f9fe"/>
<text x="1846.2" y="615.73" font-size="23" text-anchor="middle" stroke="#000" stroke-width="0.3">0</text>
<rect x="1875.7" y="563.33" width="51.8" height="88.18" fill="#f5f9fe"/>
<text x="1900.6" y="615.73" font-size="23" text-anchor="middle" stroke="#000" stroke-width="0.3">0</text>
<rect x="1766.9" y="654.12" width="51.8" height="88.18" fill="#d4e4f2"/>
<text x="1791.8" y="706.51" font-size="23" text-anchor="middle" stroke="#000" stroke-width="0.3">1</text>
<rect x="1821.3" y="654.12" width="51.8" height="88.18" fill="#f5f9fe"/>
<text x="1846.2" y="706.51" font-size="23" text-anchor="middle" stroke="#000" stroke-width="0.3">0</text>
<rect x="1875.7" y="654.12" width="51.8" height="88.18" fill="#f5f9fe"/>
<text x="1900.6" y="706.51" font-size="23" text-anchor="middle" stroke="#000" stroke-width="0.3">0</text>
<rect x="1765.6" y="198.9" width="163.2" height="544.7" fill="none" stroke="#222" stroke-width="2.2"/>
<line x1="1792.8" y1="191.4" x2="1792.8" y2="198.9" stroke="#222" stroke-width="2"/>
<line x1="1847.2" y1="191.4" x2="1847.2" y2="198.9" stroke="#222" stroke-width="2"/>
<line x1="1901.6" y1="191.4" x2="1901.6" y2="198.9" stroke="#222" stroke-width="2"/>
<text x="1937" y="253" font-size="18.6" stroke="#000" stroke-width="0.3">Submucosal secretory</text>
<text x="1937" y="339" font-size="18.6" stroke="#000" stroke-width="0.3">Secretory</text>
<text x="1937" y="411.8" font-size="18.6" stroke="#000" stroke-width="0.3">Multi-</text>
<text x="1937" y="429.4" font-size="18.6" stroke="#000" stroke-width="0.3">ciliated</text>
<text x="1937" y="447.2" font-size="18.6" stroke="#000" stroke-width="0.3">lineage</text>
<text x="1937" y="520.4" font-size="18.6" stroke="#000" stroke-width="0.3">Basal</text>
<text x="1937" y="611.2" font-size="18.6" stroke="#000" stroke-width="0.3">AT2</text>
<text x="1937" y="702" font-size="18.6" stroke="#000" stroke-width="0.3">AT1</text>
<line x1="1744.6" y1="211.1" x2="1744.6" y2="429.4" stroke="#000" stroke-width="2.6"/>
<line x1="1744.6" y1="506.5" x2="1744.6" y2="731.4" stroke="#000" stroke-width="2.6"/>
<text x="1752.6" y="468.8" font-size="20.8" text-anchor="middle" font-style="italic" stroke="#000" stroke-width="0.3" transform="rotate(-90 1752.6 468.8)">ACE2</text>
<rect x="1766.1" y="785.2" width="52.4" height="91.23" fill="#b2cde4"/>
<text x="1791.3" y="839.12" font-size="23" text-anchor="middle" stroke="#000" stroke-width="0.3">2</text>
<rect x="1821.1" y="785.2" width="52.4" height="91.23" fill="#f5f9fe"/>
<text x="1846.3" y="839.12" font-size="23" text-anchor="middle" stroke="#000" stroke-width="0.3">0</text>
<rect x="1876.1" y="785.2" width="52.4" height="91.23" fill="#f5f9fe"/>
<text x="1901.3" y="839.12" font-size="23" text-anchor="middle" stroke="#000" stroke-width="0.3">0</text>
<rect x="1766.1" y="879.03" width="52.4" height="91.23" fill="#f5f9fe"/>
<text x="1791.3" y="932.95" font-size="23" text-anchor="middle" stroke="#000" stroke-width="0.3">0</text>
<rect x="1821.1" y="879.03" width="52.4" height="91.23" fill="#213d78"/>
<text x="1846.3" y="932.95" font-size="23" text-anchor="middle" fill="#f0f6fc" stroke="#f0f6fc" stroke-width="0.3">6</text>
<rect x="1876.1" y="879.03" width="52.4" height="91.23" fill="#d4e4f2"/>
<text x="1901.3" y="932.95" font-size="23" text-anchor="middle" stroke="#000" stroke-width="0.3">1</text>
<rect x="1766.1" y="972.87" width="52.4" height="91.23" fill="#d4e4f2"/>
<text x="1791.3" y="1026.78" font-size="23" text-anchor="middle" stroke="#000" stroke-width="0.3">1</text>
<rect x="1821.1" y="972.87" width="52.4" height="91.23" fill="#f5f9fe"/>
<text x="1846.3" y="1026.78" font-size="23" text-anchor="middle" stroke="#000" stroke-width="0.3">0</text>
<rect x="1876.1" y="972.87" width="52.4" height="91.23" fill="#b2cde4"/>
<text x="1901.3" y="1026.78" font-size="23" text-anchor="middle" stroke="#000" stroke-width="0.3">2</text>
<rect x="1764.8" y="783.9" width="165" height="281.5" fill="none" stroke="#222" stroke-width="2.2"/>
<line x1="1792.3" y1="776.4" x2="1792.3" y2="783.9" stroke="#222" stroke-width="2"/>
<line x1="1847.3" y1="776.4" x2="1847.3" y2="783.9" stroke="#222" stroke-width="2"/>
<line x1="1902.3" y1="776.4" x2="1902.3" y2="783.9" stroke="#222" stroke-width="2"/>
<text x="1937" y="820.8" font-size="18.6" stroke="#000" stroke-width="0.3">Multiciliated</text>
<text x="1937" y="837.9" font-size="18.6" stroke="#000" stroke-width="0.3">lineage</text>
<text x="1937" y="928.5" font-size="18.6" stroke="#000" stroke-width="0.3">AT2</text>
<text x="1937" y="1021.8" font-size="18.6" stroke="#000" stroke-width="0.3">AT1</text>
<line x1="1744.6" y1="794.9" x2="1744.6" y2="863.7" stroke="#000" stroke-width="2.6"/>
<line x1="1744.6" y1="979.9" x2="1744.6" y2="1055" stroke="#000" stroke-width="2.6"/>
<text x="1752.6" y="922.3" font-size="20.8" text-anchor="middle" font-style="italic" stroke="#000" stroke-width="0.3" transform="rotate(-90 1752.6 922.3)">TMPRSS2</text>
<rect x="1765.9" y="1108" width="52.47" height="82.28" fill="#f5f9fe"/>
<text x="1791.13" y="1157.44" font-size="23" text-anchor="middle" stroke="#000" stroke-width="0.3">0</text>
<rect x="1820.97" y="1108" width="52.47" height="82.28" fill="#f5f9fe"/>
<text x="1846.2" y="1157.44" font-size="23" text-anchor="middle" stroke="#000" stroke-width="0.3">0</text>
<rect x="1876.03" y="1108" width="52.47" height="82.28" fill="#f5f9fe"/>
<text x="1901.27" y="1157.44" font-size="23" text-anchor="middle" stroke="#000" stroke-width="0.3">0</text>
<rect x="1765.9" y="1192.88" width="52.47" height="82.28" fill="#f5f9fe"/>
<text x="1791.13" y="1242.31" font-size="23" text-anchor="middle" stroke="#000" stroke-width="0.3">0</text>
<rect x="1820.97" y="1192.88" width="52.47" height="82.28" fill="#f5f9fe"/>
<text x="1846.2" y="1242.31" font-size="23" text-anchor="middle" stroke="#000" stroke-width="0.3">0</text>
<rect x="1876.03" y="1192.88" width="52.47" height="82.28" fill="#d4e4f2"/>
<text x="1901.27" y="1242.31" font-size="23" text-anchor="middle" stroke="#000" stroke-width="0.3">1</text>
<rect x="1765.9" y="1277.75" width="52.47" height="82.28" fill="#f5f9fe"/>
<text x="1791.13" y="1327.19" font-size="23" text-anchor="middle" stroke="#000" stroke-width="0.3">0</text>
<rect x="1820.97" y="1277.75" width="52.47" height="82.28" fill="#f5f9fe"/>
<text x="1846.2" y="1327.19" font-size="23" text-anchor="middle" stroke="#000" stroke-width="0.3">0</text>
<rect x="1876.03" y="1277.75" width="52.47" height="82.28" fill="#d4e4f2"/>
<text x="1901.27" y="1327.19" font-size="23" text-anchor="middle" stroke="#000" stroke-width="0.3">1</text>
<rect x="1765.9" y="1362.62" width="52.47" height="82.28" fill="#d4e4f2"/>
<text x="1791.13" y="1412.06" font-size="23" text-anchor="middle" stroke="#000" stroke-width="0.3">1</text>
<rect x="1820.97" y="1362.62" width="52.47" height="82.28" fill="#d4e4f2"/>
<text x="1846.2" y="1412.06" font-size="23" text-anchor="middle" stroke="#000" stroke-width="0.3">1</text>
<rect x="1876.03" y="1362.62" width="52.47" height="82.28" fill="#d4e4f2"/>
<text x="1901.27" y="1412.06" font-size="23" text-anchor="middle" stroke="#000" stroke-width="0.3">1</text>
<rect x="1764.6" y="1106.7" width="165.2" height="339.5" fill="none" stroke="#222" stroke-width="2.2"/>
<line x1="1792.13" y1="1099.2" x2="1792.13" y2="1106.7" stroke="#222" stroke-width="2"/>
<line x1="1847.2" y1="1099.2" x2="1847.2" y2="1106.7" stroke="#222" stroke-width="2"/>
<line x1="1902.27" y1="1099.2" x2="1902.27" y2="1106.7" stroke="#222" stroke-width="2"/>
<text x="1937" y="1156.3" font-size="18.6" stroke="#000" stroke-width="0.3">Submucosal secretory</text>
<text x="1937" y="1238.2" font-size="18.6" stroke="#000" stroke-width="0.3">Basal</text>
<text x="1937" y="1326.7" font-size="18.6" stroke="#000" stroke-width="0.3">AT2</text>
<text x="1937" y="1407.3" font-size="18.6" stroke="#000" stroke-width="0.3">AT1</text>
<line x1="1744.6" y1="1118.1" x2="1744.6" y2="1240.2" stroke="#000" stroke-width="2.6"/>
<line x1="1744.6" y1="1312.7" x2="1744.6" y2="1435.5" stroke="#000" stroke-width="2.6"/>
<text x="1752.6" y="1277" font-size="20.8" text-anchor="middle" font-style="italic" stroke="#000" stroke-width="0.3" transform="rotate(-90 1752.6 1277)">CTSL</text>
<text x="1800.7" y="178.4" font-size="20.4" stroke="#000" stroke-width="0.3" transform="rotate(-90 1800.7 178.4)">Age</text>
<text x="1854.8" y="178.4" font-size="20.4" stroke="#000" stroke-width="0.3" transform="rotate(-90 1854.8 178.4)">Sex</text>
<text x="1909.4" y="178.4" font-size="20.4" stroke="#000" stroke-width="0.3" transform="rotate(-90 1909.4 178.4)">Smoking status</text>
</svg>
</body></html>
